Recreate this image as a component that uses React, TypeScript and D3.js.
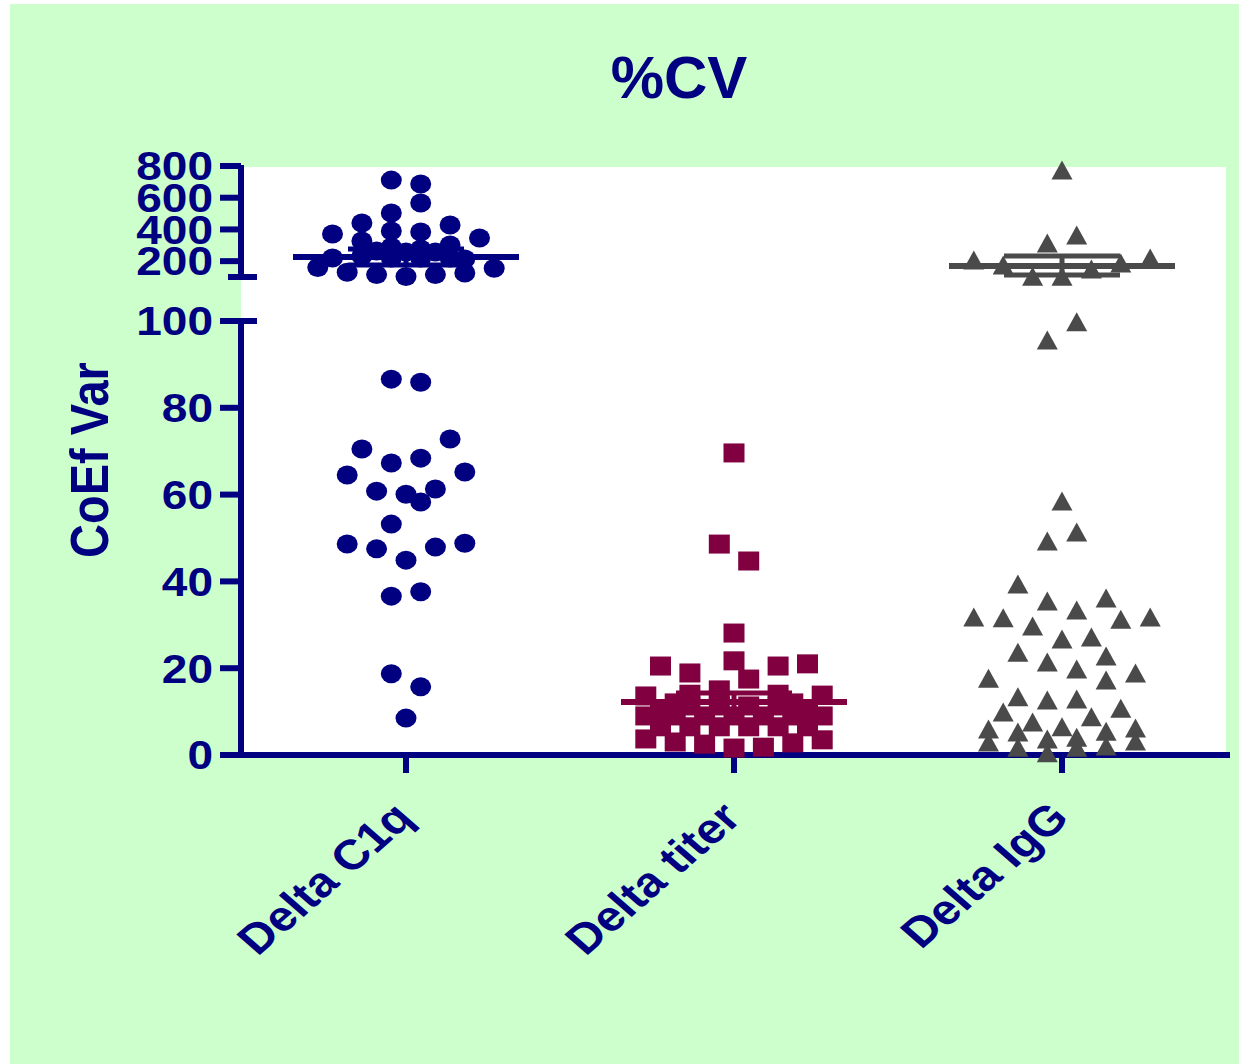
import React from "react";
import * as d3 from "d3";

// Groups on the x axis
const categories = ["Delta C1q", "Delta titer", "Delta IgG"];

// Delta C1q: coefficient of variation per sample, and its column in the dot plot
const c1qValues = [
  86.6, 85.9, 72.8, 70.5, 68.4, 67.3, 64.5, 65.2, 60.8, 60.1, 61.3, 58.3, 53.2,
  48.6, 47.5, 44.9, 47.9, 48.8, 36.6, 37.6, 18.7, 15.7, 8.5,
  711, 686, 567, 504, 440, 428, 371, 390, 384, 346, 327, 302, 289, 277,
  220, 232, 264, 220, 258, 220, 258, 220, 213,
  160, 130, 115, 103, 115, 125, 155,
];
const c1qSlots = [
  -1, 1, 3, -3, 1, -1, -4, 4, -2, 0, 2, 1, -1,
  -4, -2, 0, 2, 4, -1, 1, -1, 1, 0,
  -1, 1, 1, -1, -3, 3, -5, -1, 1, 5, -3, 3, -1, 1,
  -5, -3, -2, -1, 0, 1, 2, 3, 4,
  -6, -4, -2, 0, 2, 4, 6,
];

// Delta titer
const titerValues = [
  69.6, 48.6, 44.7, 28.1, 20.5, 18.9, 21.7, 17.5, 20.5, 21.0, 15.0, 13.6, 13.8,
  12.0, 12.0, 14.0, 14.0,
  11.3, 11.3, 11.3, 11.3, 10.5, 10.5,
  9.0, 9.0, 9.0, 9.0, 9.0, 9.0, 9.0,
  6.5, 6.5, 6.5, 6.5, 6.5, 6.5,
  3.7, 3.0, 2.5, 1.6, 1.8, 2.8, 3.5,
];
const titerSlots = [
  0, -1, 1, 0, -5, -3, 0, 1, 3, 5, -1, -6, 6,
  4, -4, -3, 3,
  -3, -1, 1, 3, -5, 5,
  -6, -4, -2, 0, 2, 4, 6,
  -5, -3, -1, 1, 3, 5,
  -6, -4, -2, 0, 2, 4, 6,
];

// Delta IgG
const iggValues = [
  775, 365, 314, 207, 220, 176, 188, 150, 104, 104,
  99.8, 95.6,
  58.5, 51.4, 49.3, 39.4, 35.5, 36.2, 33.4, 31.8, 31.6, 31.3, 31.8, 29.7, 26.7,
  27.2, 23.7, 21.4, 22.8, 19.8, 17.7, 17.3, 18.9, 13.4, 12.7, 12.9, 9.9, 10.8,
  7.6, 8.8, 6.5, 6.0, 5.3, 5.5, 6.2, 3.7, 4.1, 3.0, 1.8, 2.1, 3.2, 0.5, 1.8,
];
const iggSlots = [
  0, 1, -1, -6, 6, -4, 4, 2, -2, 0,
  1, -1,
  0, 1, -1, -3, -1, 3, 1, -6, -4, 4, 6, -2, 0,
  2, -3, -1, 3, 1, -5, 3, 5, -3, -1, 1, -4, 4,
  -2, 2, 0, -5, -3, 3, 5, -1, 1, -5, -3, 3, 5, -1, 1,
];

// Mean with SEM for each group
const groupMeans = [226, 12.2, 169];
const groupSemLow = [176, 10.1, 113];
const groupSemHigh = [276, 14.3, 232];

// Axis ticks for the two segments of the broken y axis
const lowerTicks = [0, 20, 40, 60, 80, 100];
const upperTicks = [200, 400, 600, 800];

const NAVY = "#000080";
const MAROON = "#800040";
const GREY = "#4a4a4a";
const FONT = "'Liberation Sans', Arial, Helvetica, sans-serif";

const W = 1239;
const H = 1064;

// Scales
const x = d3.scalePoint<string>().domain(categories).range([406, 1062]).padding(0);
const yLow = d3.scaleLinear().domain([0, 100]).range([755, 321]);
const yHigh = d3.scaleLinear().domain([100, 800]).range([277, 166]);
const y = (v: number) => (v > 100 ? yHigh(v) : yLow(v));

const SLOT = 14.7; // horizontal spacing of the dot columns
const MW = 21; // marker width
const MH = 19; // marker height

const triPath = `M0,${-MH / 2}L${MW / 2},${MH / 2}L${-MW / 2},${MH / 2}Z`;

const groups = [
  { name: categories[0], values: c1qValues, slots: c1qSlots, color: NAVY, shape: "circle" },
  { name: categories[1], values: titerValues, slots: titerSlots, color: MAROON, shape: "square" },
  { name: categories[2], values: iggValues, slots: iggSlots, color: GREY, shape: "triangle" },
];

const AX = 241; // y axis position
const LABEL_SCALE = 1.15;

export default function App() {
  return (
    <svg
      width={W}
      height={H}
      style={{ position: "absolute", left: 0, top: 0, background: "#ffffff" }}
      fontFamily={FONT}
    >
      {/* panel background */}
      <rect x={10} y={4} width={W - 10} height={H - 4} fill="#ccffcc" />
      {/* plot area */}
      <rect x={AX} y={167} width={1226 - AX} height={755 - 167} fill="#ffffff" />

      {/* title */}
      <text x={679} y={98} textAnchor="middle" fontSize={60} fontWeight="bold" fill={NAVY}>
        %CV
      </text>

      {/* y axis title */}
      <text
        transform={`translate(108,460) scale(${LABEL_SCALE},1) rotate(-90)`}
        textAnchor="middle"
        fontSize={47}
        fontWeight="bold"
        fill={NAVY}
      >
        CoEf Var
      </text>

      {/* broken y axis: lower segment */}
      <g stroke={NAVY} strokeWidth={6} fill="none">
        <line x1={AX} x2={AX} y1={yLow(100)} y2={yLow(0) + 3} />
        <line x1={220} x2={257} y1={yLow(100)} y2={yLow(100)} />
        {lowerTicks.map((t) => (
          <line key={`lt${t}`} x1={220} x2={AX} y1={yLow(t)} y2={yLow(t)} />
        ))}
        {/* upper segment */}
        <line x1={AX} x2={AX} y1={yHigh(800) - 1} y2={yHigh(100)} />
        <line x1={228} x2={257} y1={yHigh(100)} y2={yHigh(100)} />
        {upperTicks.map((t) => (
          <line key={`ut${t}`} x1={220} x2={AX} y1={yHigh(t)} y2={yHigh(t)} />
        ))}
        {/* x axis */}
        <line x1={AX - 3} x2={1230} y1={yLow(0)} y2={yLow(0)} />
        {categories.map((c) => (
          <line key={`xt${c}`} x1={x(c)!} x2={x(c)!} y1={yLow(0)} y2={773} />
        ))}
      </g>

      {/* y tick labels */}
      <g fill={NAVY} fontSize={40} fontWeight="bold" textAnchor="end">
        {lowerTicks.map((t) => (
          <text key={`ll${t}`} transform={`translate(213,${yLow(t) + 14.3}) scale(${LABEL_SCALE},1)`}>
            {t}
          </text>
        ))}
        {upperTicks.map((t) => (
          <text key={`ul${t}`} transform={`translate(213,${yHigh(t) + 14.3}) scale(${LABEL_SCALE},1)`}>
            {t}
          </text>
        ))}
      </g>

      {/* x tick labels */}
      <g fill={NAVY} fontSize={42} fontWeight="bold" textAnchor="end">
        {categories.map((c) => (
          <text key={`xl${c}`} transform={`translate(${x(c)! + 9},820) scale(${LABEL_SCALE},1) rotate(-45)`}>
            {c}
          </text>
        ))}
      </g>

      {/* points */}
      {groups.map((g) => {
        const cx0 = x(g.name)!;
        return (
          <g key={`pts${g.name}`} fill={g.color}>
            {g.values.map((v, i) => {
              const px = cx0 + g.slots[i] * SLOT;
              const py = y(v);
              if (g.shape === "circle")
                return <ellipse key={i} cx={px} cy={py} rx={MW / 2} ry={MH / 2} />;
              if (g.shape === "square")
                return <rect key={i} x={px - MW / 2} y={py - MH / 2} width={MW} height={MH} />;
              return <path key={i} d={triPath} transform={`translate(${px},${py})`} />;
            })}
          </g>
        );
      })}

      {/* mean and SEM */}
      {groups.map((g, i) => {
        const cx0 = x(g.name)!;
        return (
          <g key={`mean${g.name}`} stroke={g.color} fill="none">
            <line x1={cx0 - 113} x2={cx0 + 113} y1={y(groupMeans[i])} y2={y(groupMeans[i])} strokeWidth={6} />
            <line x1={cx0} x2={cx0} y1={y(groupSemLow[i])} y2={y(groupSemHigh[i])} strokeWidth={5} />
            <line x1={cx0 - 58} x2={cx0 + 58} y1={y(groupSemHigh[i])} y2={y(groupSemHigh[i])} strokeWidth={5} />
            <line x1={cx0 - 58} x2={cx0 + 58} y1={y(groupSemLow[i])} y2={y(groupSemLow[i])} strokeWidth={5} />
          </g>
        );
      })}
    </svg>
  );
}
